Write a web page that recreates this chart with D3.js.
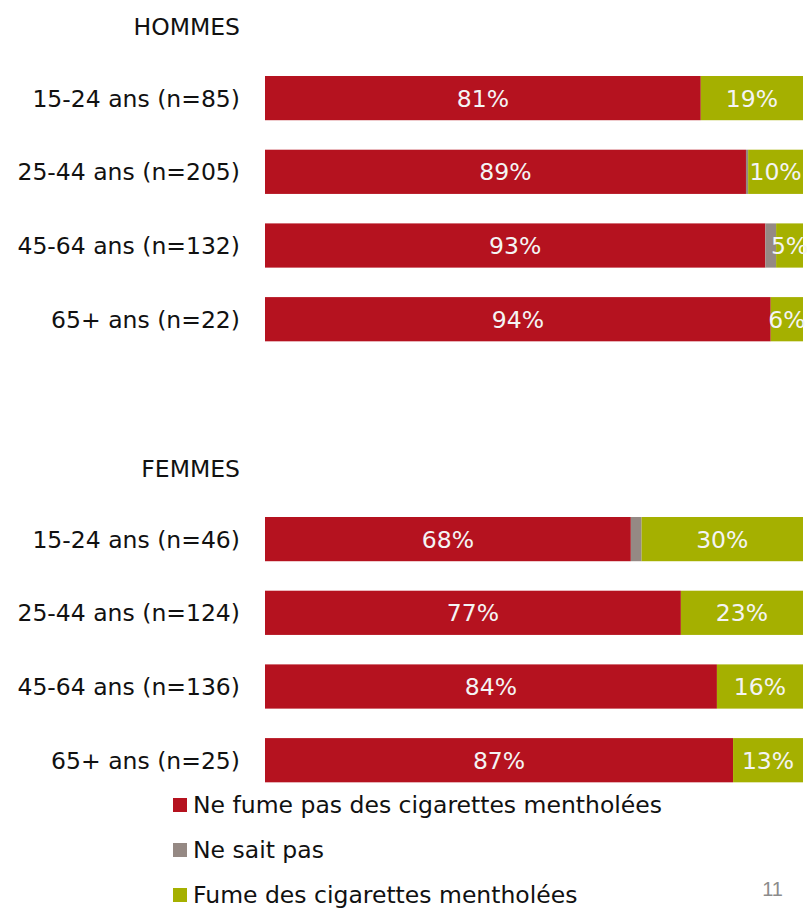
<!DOCTYPE html>
<html>
<head>
<meta charset="utf-8">
<script src="https://cdn.jsdelivr.net/npm/d3@7"></script>
<style>
  body { margin: 0; background: #fff; }
  text { font-family: "DejaVu Sans", sans-serif; }
</style>
</head>
<body>
<script>
const width = 807, height = 909;

// categories
const ages = ["15-24 ans", "25-44 ans", "45-64 ans", "65+ ans"];
const nHommes = [85, 205, 132, 22];
const nFemmes = [46, 124, 136, 25];
const series = ["Ne fume pas des cigarettes mentholées", "Ne sait pas", "Fume des cigarettes mentholées"];
const keys = ["non", "nsp", "oui"];

// values (%)
const nonHommes = [81, 89.4, 93, 94];
const nspHommes = [0, 0.4, 2, 0];
const ouiHommes = [19, 10.2, 5, 6];
const nonFemmes = [68, 77.3, 84, 87];
const nspFemmes = [2, 0, 0, 0];
const ouiFemmes = [30, 22.7, 16, 13];

const colors = ["#b5121f", "#958984", "#a5b000"];
const fs = 23.5;

const svg = d3.select("body").append("svg")
    .attr("width", width)
    .attr("height", height);

const x = d3.scaleLinear().domain([0, 100]).range([265, 803]);
const color = d3.scaleOrdinal().domain(keys).range(colors);
const stack = d3.stack().keys(keys);

function panel(title, titleY, top, ns, non, nsp, oui) {
    const rows = ages.map((a, i) => ({
        label: `${a} (n=${ns[i]})`, non: non[i], nsp: nsp[i], oui: oui[i]
    }));
    const step = 73.7;
    const y = d3.scaleBand()
        .domain(rows.map(d => d.label))
        .range([top - step * 0.2, top - step * 0.2 + step * 4])
        .paddingInner(0.4)
        .paddingOuter(0.2);

    const g = svg.append("g");

    g.append("text")
        .attr("x", 240)
        .attr("y", titleY)
        .attr("text-anchor", "end")
        .attr("font-size", fs)
        .attr("fill", "#111")
        .text(title);

    g.selectAll(".cat").data(rows).join("text")
        .attr("class", "cat")
        .attr("x", 240)
        .attr("y", d => y(d.label) + y.bandwidth() / 2)
        .attr("dy", "0.36em")
        .attr("text-anchor", "end")
        .attr("font-size", fs)
        .attr("fill", "#111")
        .text(d => d.label);

    const layers = stack(rows);
    const layer = g.selectAll(".layer").data(layers).join("g")
        .attr("fill", d => color(d.key));

    layer.selectAll("rect").data(d => d.filter(s => s[1] - s[0] > 0)).join("rect")
        .attr("x", d => x(d[0]))
        .attr("y", d => y(d.data.label))
        .attr("width", d => x(d[1]) - x(d[0]))
        .attr("height", y.bandwidth());

    // value labels on the two main segments
    layers.filter(l => l.key !== "nsp").forEach(l => {
        g.selectAll(null).data(l.filter(s => s[1] - s[0] > 0)).join("text")
            .attr("x", d => (x(d[0]) + x(d[1])) / 2)
            .attr("y", d => y(d.data.label) + y.bandwidth() / 2)
            .attr("dy", "0.36em")
            .attr("text-anchor", "middle")
            .attr("font-size", fs)
            .attr("fill", "#f4f4f4")
            .text(d => Math.round(d[1] - d[0]) + "%");
    });
}

panel("HOMMES", 35, 76, nHommes, nonHommes, nspHommes, ouiHommes);
panel("FEMMES", 477, 517, nFemmes, nonFemmes, nspFemmes, ouiFemmes);

// legend
const legend = svg.append("g").selectAll("g").data(series).join("g")
    .attr("transform", (d, i) => `translate(173, ${805 + i * 45})`);
legend.append("rect")
    .attr("y", -7)
    .attr("width", 14)
    .attr("height", 14)
    .attr("fill", (d, i) => colors[i]);
legend.append("text")
    .attr("x", 20)
    .attr("dy", "0.36em")
    .attr("font-size", fs)
    .attr("fill", "#111")
    .text(d => d);

svg.append("text")
    .attr("x", 783)
    .attr("y", 896)
    .attr("text-anchor", "end")
    .attr("font-size", 20)
    .attr("fill", "#8c8c8c")
    .style("font-family", "'Liberation Sans', sans-serif")
    .text("11");
</script>
</body>
</html>
